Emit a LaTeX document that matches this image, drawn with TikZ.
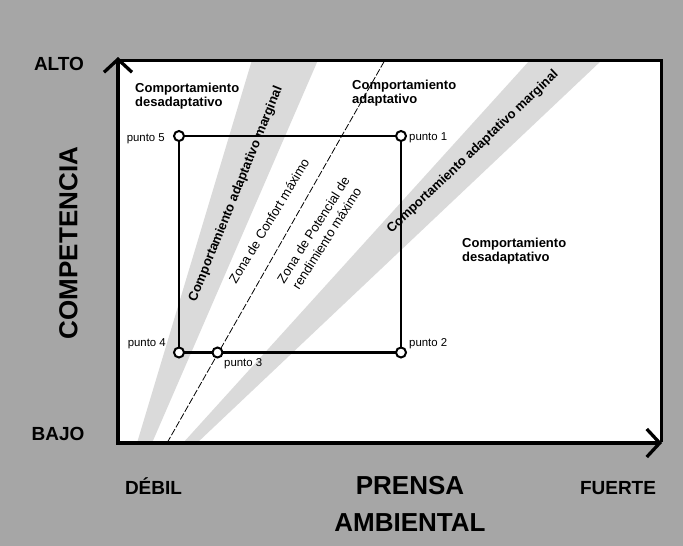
\documentclass[tikz,border=0pt]{standalone}
\usepackage{fontspec}
\setmainfont{Liberation Sans}
\usetikzlibrary{arrows.meta}
\definecolor{pagegray}{RGB}{166,166,166}
\definecolor{bandgray}{RGB}{218,218,218}
\begin{document}
\begin{tikzpicture}[x=1pt,y=-1pt,
  axisline/.style={line width=3.3pt, line join=miter,
    {Straight Barb[length=13pt,width=28pt]}-{Straight Barb[length=13pt,width=28pt]}},
  frameline/.style={line width=3pt, line join=miter},
  boxline/.style={line width=2.8pt},
  dot/.style={circle, draw, fill=white, line width=2pt, minimum size=10pt, inner sep=0pt},
  band/.style={fill=bandgray, draw=none},
  guide/.style={line width=0.8pt, dash pattern=on 7pt off 2pt},
  ptlabel/.style={inner sep=0pt, font=\fontsize{11.4}{13}\selectfont},
  zonelabel/.style={inner sep=0pt, align=center, font=\fontsize{13}{16}\selectfont},
  regionlabel/.style={inner sep=0pt, align=left, font=\bfseries\fontsize{13}{13.8}\selectfont},
  bandlabel/.style={inner sep=0pt, font=\bfseries\fontsize{13}{15}\selectfont},
  axislabel/.style={inner sep=0pt, font=\bfseries\fontsize{19}{22}\selectfont},
  axistitle/.style={inner sep=0pt, align=center, font=\bfseries\fontsize{26}{37}\selectfont},
]
\useasboundingbox (0,0) rectangle (683,546);
% page and plotting field
\fill[pagegray] (0,0) rectangle (683,546);
\fill[white] (118,60) rectangle (661,443);

% shaded bands of marginal adaptive behaviour
\fill[band] (137,443) -- (152,443) -- (318,60) -- (252,60) -- cycle;
\fill[band] (183,443) -- (197,443) -- (602,60) -- (530,60) -- cycle;

% dividing line between the two zones
\coordinate (gA) at (167,443);
\coordinate (gB) at (385,60);
\draw[guide] (gA) -- (gB);

% the five points and the box joining them
\coordinate (P1) at (401,136);
\coordinate (P2) at (401,352.5);
\coordinate (P3) at (217.5,352.5);
\coordinate (P4) at (179,352.5);
\coordinate (P5) at (179,136);
\draw[boxline] (P5) -- (P1) -- (P2) -- (P3) -- (P4) -- cycle;
\node[dot] (d1) at (P1) {};
\node[dot] (d2) at (P2) {};
\node[dot] (d3) at (P3) {};
\node[dot] (d4) at (P4) {};
\node[dot] (d5) at (P5) {};

% frame and axes
\coordinate (O) at (118,443);
\coordinate (Ytop) at (118,57);
\coordinate (Xend) at (662,443);
\coordinate (TL) at (118,60);
\coordinate (TR) at (661,60);
\coordinate (BR) at (661,442);
\draw[frameline] (TL) -- (TR) -- (BR);
\draw[axisline] (Ytop) -- (O) -- (Xend);

% point labels
\node[ptlabel, anchor=east] (l5) at (165,139) {punto 5};
\node[ptlabel, anchor=west] (l1) at (409,138) {punto 1};
\node[ptlabel, anchor=east] (l4) at (166,344) {punto 4};
\node[ptlabel, anchor=west] (l2) at (409,344) {punto 2};
\node[ptlabel, anchor=west] (l3) at (224,364) {punto 3};

% region labels
\node[regionlabel, anchor=north west] (rTL) at (135,83) {Comportamiento\\desadaptativo};
\node[regionlabel, anchor=north west] (rTM) at (352,80) {Comportamiento\\adaptativo};
\node[regionlabel, anchor=north west] (rR) at (462,238) {Comportamiento\\desadaptativo};

\node[bandlabel, rotate=68] (bL) at (236,194) {Comportamiento adaptativo marginal};
\node[bandlabel, rotate=43.5] (bR) at (473,152) {Comportamiento adaptativo marginal};

\node[zonelabel, rotate=59] (zC) at (269,221) {Zona de Confort máximo};
\node[zonelabel, rotate=57.5] (zP) at (320,234) {Zona de Potencial de\\rendimiento máximo};

% axis labels
\node[axislabel] (alto) at (59,64) {ALTO};
\node[axislabel] (bajo) at (58,434) {BAJO};
\node[axislabel, anchor=base] (debil) at (153.5,494) {DÉBIL};
\node[axislabel, anchor=base] (fuerte) at (618,494) {FUERTE};
\node[axistitle, rotate=90] (comp) at (68.5,243) {COMPETENCIA};
\node[axistitle, anchor=north] (prensa) at (410,476) {PRENSA\\AMBIENTAL};
\end{tikzpicture}
\end{document}
